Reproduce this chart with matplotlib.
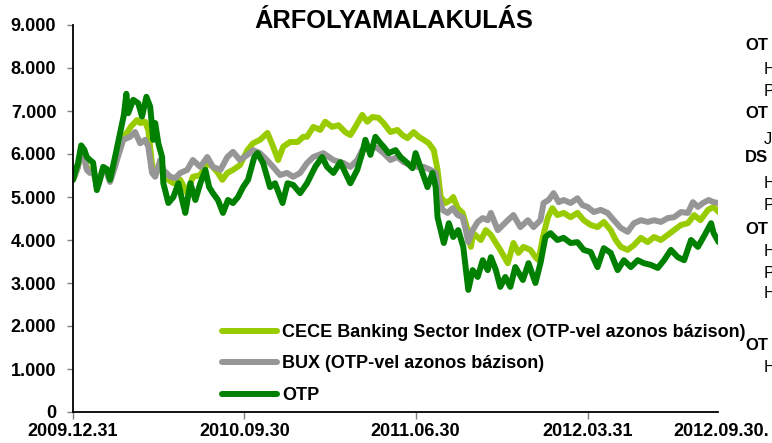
import matplotlib
matplotlib.use("Agg")
import matplotlib.pyplot as plt
import matplotlib.ticker as mticker
import pandas as pd

plt.rcParams['font.family'] = ['Liberation Sans', 'DejaVu Sans']

# ---------------- data (days since 2009-12-31, index value) ----------------
start_date = "2009-12-31"

otp_days = [0, 3, 8, 13, 18, 22, 27, 32, 38, 43, 48, 54, 59, 67, 75, 81, 85, 88, 96, 104,
            110, 117, 123, 128, 131, 136, 142, 144, 152, 160, 168, 174, 179, 187, 195, 203,
            211, 217, 223, 231, 239, 247, 255, 263, 271, 279, 289, 294, 303, 314, 322, 334,
            342, 351, 362, 373, 386, 397, 405, 415, 426, 437, 442, 453, 461, 466, 474, 482,
            490, 495, 503, 514, 522, 533, 541, 546, 557, 565, 573, 578, 581, 591, 599, 606,
            614, 622, 630, 637, 645, 653, 661, 666, 674, 681, 689, 697, 705, 717, 726, 737,
            745, 753, 761, 772, 782, 793, 804, 814, 825, 836, 846, 857, 868, 878, 889, 900,
            910, 921, 932, 942, 953, 964, 974, 985, 996, 1005, 1017, 1021, 1029]
otp_values = [5400, 5560, 5790, 6200, 6100, 5930, 5860, 5800, 5160, 5400, 5700, 5650, 5400, 5930,
              6490, 6900, 7400, 6950, 7260, 7180, 6870, 7330, 7100, 6330, 6720, 6250, 5930, 5320,
              4860, 5000, 5320, 4930, 4630, 5320, 4930, 5320, 5630, 5230, 5090, 4930, 4630, 4930,
              4860, 5000, 5230, 5400, 5930, 6020, 5790, 5230, 5320, 4860, 5320, 5280, 5090, 5320,
              5700, 5930, 5700, 5560, 5810, 5470, 5320, 5630, 6020, 6330, 5980, 6400, 6250, 6170,
              6020, 6090, 5930, 5790, 5670, 6020, 5560, 5230, 5560, 5230, 4530, 3930, 4390, 4070,
              4230, 3840, 2840, 3300, 3140, 3530, 3300, 3600, 3300, 2910, 3140, 2910, 3370, 3070,
              3460, 3000, 3460, 4070, 4160, 4000, 4050, 3930, 3950, 3770, 3720, 3370, 3810, 3700,
              3300, 3530, 3370, 3530, 3460, 3420, 3350, 3530, 3770, 3600, 3530, 4000, 3840, 4070,
              4390, 4160, 3950]

bux_days = [0, 3, 8, 13, 18, 22, 27, 32, 38, 43, 48, 54, 59, 67, 70, 80, 91, 99, 107, 115, 120,
            126, 131, 139, 144, 155, 163, 171, 182, 191, 203, 214, 223, 235, 246, 255, 266, 278,
            287, 298, 309, 319, 330, 341, 351, 362, 373, 383, 399, 415, 431, 442, 453, 461, 474,
            485, 495, 506, 517, 527, 538, 549, 559, 570, 578, 583, 589, 597, 605, 613, 621, 626,
            630, 637, 645, 653, 661, 666, 677, 693, 702, 713, 725, 734, 745, 750, 758, 766, 774,
            782, 793, 804, 812, 820, 830, 841, 852, 862, 873, 884, 894, 905, 916, 926, 937, 948,
            958, 969, 980, 988, 996, 1004, 1013, 1021, 1029]
bux_values = [5400, 5500, 5700, 6100, 5900, 5630, 5560, 5600, 5280, 5450, 5650, 5550, 5350, 5700,
              5860, 6330, 6400, 6510, 6250, 6330, 6170, 5560, 5470, 5860, 5630, 5470, 5440, 5560,
              5630, 5860, 5700, 5930, 5700, 5630, 5930, 6050, 5860, 5980, 6090, 6020, 5860, 5700,
              5510, 5560, 5470, 5560, 5790, 5930, 6020, 5860, 5790, 5700, 5860, 6090, 6170, 6140,
              6020, 5860, 5930, 5810, 5740, 5700, 5700, 5630, 5560, 5000, 4700, 4630, 4740, 4580,
              4530, 4230, 3950, 4230, 4420, 4510, 4460, 4630, 4230, 4460, 4580, 4300, 4460, 4300,
              4460, 4860, 4930, 5090, 4880, 4930, 4860, 4970, 4810, 4770, 4650, 4700, 4630, 4460,
              4280, 4190, 4390, 4460, 4420, 4460, 4420, 4510, 4530, 4650, 4630, 4880, 4770, 4860,
              4930, 4880, 4860]

cece_days = [0, 3, 8, 13, 18, 22, 27, 32, 38, 43, 48, 54, 59, 67, 70, 80, 86, 93, 102, 107, 115,
             120, 126, 131, 139, 144, 152, 160, 171, 182, 191, 203, 214, 223, 231, 238, 246, 255,
             266, 278, 287, 298, 310, 319, 327, 335, 346, 358, 367, 373, 383, 394, 402, 413, 423,
             434, 442, 450, 461, 469, 477, 487, 495, 506, 517, 525, 533, 543, 551, 559, 567, 575,
             581, 586, 594, 602, 606, 613, 621, 629, 634, 638, 650, 658, 666, 674, 681, 693, 702,
             710, 718, 729, 737, 742, 749, 757, 764, 772, 782, 793, 804, 814, 825, 836, 846, 857,
             865, 873, 884, 894, 905, 916, 926, 937, 948, 958, 969, 980, 990, 1000, 1012, 1021,
             1029]
cece_values = [5400, 5500, 5700, 6100, 5950, 5700, 5600, 5650, 5250, 5450, 5650, 5600, 5400, 5750,
               5900, 6350, 6500, 6650, 6790, 6720, 6750, 6560, 5750, 5500, 5790, 5600, 5400, 5320,
               5400, 5090, 5470, 5510, 5790, 5700, 5560, 5400, 5560, 5630, 5740, 6090, 6250, 6330,
               6490, 6170, 5860, 6170, 6280, 6280, 6400, 6400, 6630, 6560, 6750, 6630, 6670, 6510,
               6440, 6630, 6910, 6750, 6860, 6840, 6720, 6510, 6560, 6440, 6370, 6510, 6400, 6330,
               6250, 6090, 5630, 5000, 4860, 4930, 5000, 4740, 4630, 4230, 3840, 4160, 4000, 4230,
               4120, 3930, 3770, 3460, 3930, 3700, 3840, 3770, 3600, 3530, 4070, 4530, 4740, 4580,
               4630, 4530, 4630, 4460, 4350, 4300, 4420, 4230, 4000, 3840, 3770, 3880, 4050, 3950,
               4070, 4000, 4120, 4230, 4350, 4390, 4580, 4460, 4700, 4770, 4650]

series_labels = ["CECE Banking Sector Index (OTP-vel azonos bázison)",
                 "BUX (OTP-vel azonos bázison)",
                 "OTP"]
tick_dates = ["2009-12-31", "2010-09-30", "2011-06-30", "2012-03-31"]
tick_labels = ["2009.12.31", "2010.09.30", "2011.06.30", "2012.03.31"]
end_label = "2012.09.30."
x_end_date = "2012-10-24"
title = "ÁRFOLYAMALAKULÁS"

side_texts = [("OT", True, 0), ("H", False, 1), ("P", False, 1), ("OT", True, 0),
              ("J", False, 1), ("DS", True, 0), ("H", False, 1), ("P", False, 1),
              ("OT", True, 0), ("H", False, 1), ("P", False, 1), ("H", False, 1),
              ("OT", True, 0), ("H", False, 1)]
side_y_px = [45, 70, 92, 113, 140, 158, 183, 206, 229, 251, 273, 294, 345, 367]

# ---------------- figure ----------------
W, H = 772, 443
fig = plt.figure(figsize=(W / 100, H / 100), dpi=100)
ax = fig.add_axes([73 / W, 1 - 412 / H, 645 / W, 387 / H])

t0 = pd.Timestamp(start_date)
def to_dates(days):
    return [t0 + pd.Timedelta(days=d) for d in days]

colors = ["#99CC00", "#969696", "#008000"]
for days, vals, lab, col in [(cece_days, cece_values, series_labels[0], colors[0]),
                             (bux_days, bux_values, series_labels[1], colors[1]),
                             (otp_days, otp_values, series_labels[2], colors[2])]:
    ax.plot(to_dates(days), vals, color=col, lw=4.3, label=lab,
            solid_joinstyle='round', solid_capstyle='round')

ax.set_xlim(t0, pd.Timestamp(x_end_date))
ax.set_ylim(0, 9000)
ax.set_yticks(range(0, 9001, 1000))
ax.yaxis.set_major_formatter(mticker.FuncFormatter(
    lambda v, p: "0" if v == 0 else f"{v/1000:.3f}"))
ax.set_xticks([pd.Timestamp(d) for d in tick_dates])
ax.set_xticklabels(tick_labels)

for s in ["top", "right"]:
    ax.spines[s].set_visible(False)
for s in ["left", "bottom"]:
    ax.spines[s].set_linewidth(1.3)
    ax.spines[s].set_color("black")

ax.tick_params(axis='y', length=4, width=1, color="#808080", pad=8,
               labelsize=13)
ax.tick_params(axis='x', length=5, width=1, color="#808080", pad=3,
               labelsize=13)
for lab in ax.get_xticklabels() + ax.get_yticklabels():
    lab.set_fontweight('bold')

fig.text(721 / W, 1 - 431 / H, end_label, ha='center', va='center',
         fontsize=13, fontweight='bold')

fig.text(394 / W, 1 - 21 / H, title, ha='center', va='center',
         fontsize=18.3, fontweight='bold')

leg = ax.legend(loc='upper left', bbox_to_anchor=(222 / W, 1 - 324 / H),
                bbox_transform=fig.transFigure, frameon=False,
                borderpad=0, borderaxespad=0, handlelength=3.05,
                handletextpad=0.3, labelspacing=0.8,
                prop={'size': 13, 'weight': 'bold'})
for line in leg.get_lines():
    line.set_linewidth(4.3)

for (txt, bold, indent), ypx in zip(side_texts, side_y_px):
    xpx = 745 if indent == 0 else 764
    fig.text(xpx / W, 1 - ypx / H, txt, ha='left', va='center', fontsize=12,
             fontweight='bold' if bold else 'normal')

fig.savefig("out.png", dpi=100)
